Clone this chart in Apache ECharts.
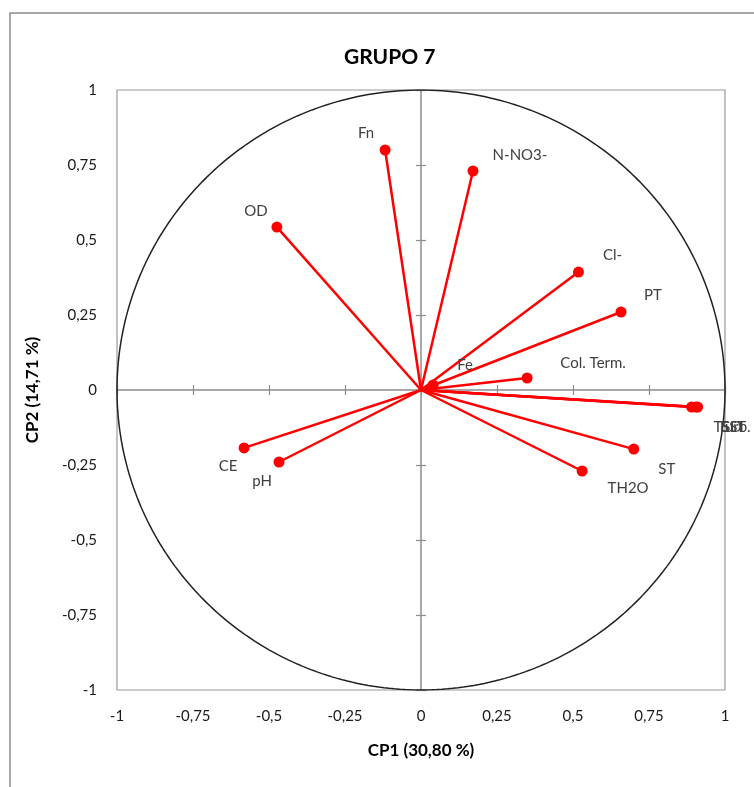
<!DOCTYPE html>
<html>
<head>
<meta charset="utf-8">
<script src="https://cdn.jsdelivr.net/npm/echarts@6/dist/echarts.min.js"></script>
<style>
    html, body { margin: 0; padding: 0; background: #fff; }
    #chart { width: 754px; height: 787px; }
</style>
</head>
<body>
<div id="chart"></div>
<script>
// variable names and their loadings on CP1 / CP2
let names = ['Fn', 'N-NO3-', 'OD', 'Cl-', 'PT', 'Col. Term.', 'Fe', 'TSD', 'Turb.', 'SST', 'ST', 'TH2O', 'CE', 'pH'];
let cp1 = [-0.118, 0.171, -0.474, 0.518, 0.658, 0.349, 0.04, 0.89, 0.905, 0.91, 0.70, 0.53, -0.582, -0.467];
let cp2 = [0.80, 0.73, 0.543, 0.393, 0.26, 0.04, 0.017, -0.057, -0.057, -0.057, -0.197, -0.27, -0.193, -0.24];
let ticks = [-1, -0.75, -0.5, -0.25, 0, 0.25, 0.5, 0.75, 1];

// where each label sits relative to its point (px)
let labelOffsets = {
    'Fn': [-19, -17], 'N-NO3-': [47, -16], 'OD': [-21, -16], 'Cl-': [34, -17],
    'PT': [32, -17], 'Col. Term.': [66, -15], 'Fe': [32, -20],
    'TSD': [36, 20], 'Turb.': [38, 20], 'SST': [36, 20],
    'ST': [33, 20], 'TH2O': [46, 17], 'CE': [-16, 18], 'pH': [-17, 19]
};

let chart = echarts.init(document.getElementById('chart'));
let font = 'Lato, "Open Sans", sans-serif';

let fmt = function (v) {
    return String(v).replace('.', ',');
};

// unit circle (correlation circle guide)
let circle = [];
for (let i = 0; i <= 360; i++) {
    let a = i * Math.PI / 180;
    circle.push([Math.cos(a), Math.sin(a)]);
}

let points = names.map((n, i) => ({
    name: n,
    value: [cp1[i], cp2[i]],
    label: { offset: labelOffsets[n] }
}));
let vectors = names.map((n, i) => ({ coords: [[0, 0], [cp1[i], cp2[i]]] }));

let baseAxis = {
    type: 'value', min: -1, max: 1, interval: 0.25,
    splitLine: { show: false }
};

let option = {
    animation: false,
    backgroundColor: '#fff',
    textStyle: { fontFamily: font },
    title: {
        text: 'GRUPO 7',
        left: 339, top: 42,
        textStyle: { fontFamily: font, fontSize: 21, fontWeight: 'bold', color: '#000' }
    },
    graphic: [{
        type: 'rect',
        shape: { x: 10, y: 13, width: 780, height: 800 },
        style: { fill: null, stroke: '#8c8c8c', lineWidth: 1.5 },
        silent: true
    }],
    grid: {
        left: 117, right: 29, top: 90, bottom: 97,
        show: true, borderColor: '#999', borderWidth: 1.2,
        containLabel: false
    },
    xAxis: [
        Object.assign({}, baseAxis, {
            position: 'bottom',
            axisLine: { show: false, onZero: false },
            axisTick: { show: false },
            axisLabel: { formatter: fmt, fontSize: 15, color: '#1a1a1a', margin: 19, fontFamily: font },
            name: 'CP1 (30,80 %)', nameLocation: 'middle', nameGap: 52,
            nameTextStyle: { fontSize: 17, fontWeight: 'bold', color: '#000', fontFamily: font }
        }),
        Object.assign({}, baseAxis, {
            axisLine: { show: true, onZero: true, onZeroAxisIndex: 0, lineStyle: { color: '#8c8c8c', width: 1.5 } },
            axisTick: { show: true, inside: true, length: 5, lineStyle: { color: '#8c8c8c', width: 1.2 } },
            axisLabel: { show: false }
        }),
        Object.assign({}, baseAxis, {
            axisLine: { show: false, onZero: true, onZeroAxisIndex: 1 },
            axisTick: { show: true, inside: false, length: 5, lineStyle: { color: '#8c8c8c', width: 1.2 } },
            axisLabel: { show: false }
        })
    ],
    yAxis: [
        Object.assign({}, baseAxis, {
            position: 'left',
            axisLine: { show: false, onZero: false },
            axisTick: { show: false },
            axisLabel: { formatter: fmt, fontSize: 15, color: '#1a1a1a', margin: 20, fontFamily: font },
            name: 'CP2 (14,71 %)', nameLocation: 'middle', nameGap: 76, nameRotate: 90,
            nameTextStyle: { fontSize: 17, fontWeight: 'bold', color: '#000', fontFamily: font }
        }),
        Object.assign({}, baseAxis, {
            axisLine: { show: true, onZero: true, onZeroAxisIndex: 0, lineStyle: { color: '#8c8c8c', width: 1.5 } },
            axisTick: { show: true, inside: true, length: 5, lineStyle: { color: '#8c8c8c', width: 1.2 } },
            axisLabel: { show: false }
        }),
        Object.assign({}, baseAxis, {
            axisLine: { show: false, onZero: true, onZeroAxisIndex: 1 },
            axisTick: { show: true, inside: false, length: 5, lineStyle: { color: '#8c8c8c', width: 1.2 } },
            axisLabel: { show: false }
        })
    ],
    series: [
        {
            type: 'line',
            data: circle,
            showSymbol: false,
            silent: true,
            lineStyle: { color: '#222', width: 1.5 },
            z: 1
        },
        {
            type: 'lines',
            coordinateSystem: 'cartesian2d',
            data: vectors,
            lineStyle: { color: '#ff0000', width: 2.5, opacity: 1 },
            z: 3
        },
        {
            type: 'scatter',
            data: points,
            symbol: 'circle',
            symbolSize: 11,
            itemStyle: { color: '#ff0000', opacity: 1 },
            label: {
                show: true,
                position: 'inside',
                formatter: '{b}',
                fontSize: 15,
                color: '#404040',
                fontFamily: font
            },
            z: 4
        }
    ]
};
chart.setOption(option);
</script>
</body>
</html>
